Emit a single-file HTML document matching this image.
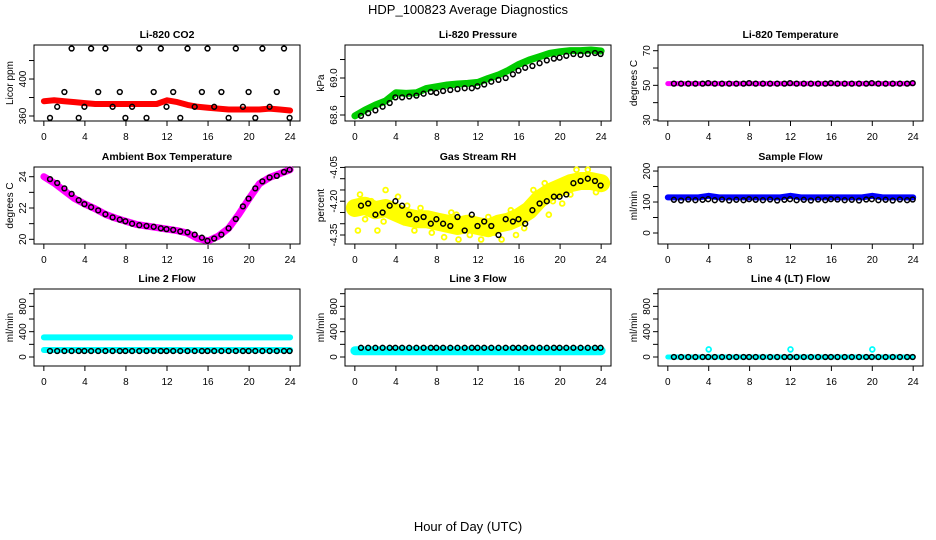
<!DOCTYPE html>
<html><head><meta charset="utf-8">
<style>
html,body{margin:0;padding:0;background:#fff;}
svg{display:block;font-family:"Liberation Sans",Arial,sans-serif;}
</style></head>
<body>
<svg id="chart" width="936" height="540" viewBox="0 0 936 540" xmlns="http://www.w3.org/2000/svg">
<text x="468" y="14" font-size="13" text-anchor="middle">HDP_100823  Average Diagnostics</text>
<text x="468" y="531" font-size="13" text-anchor="middle">Hour of Day (UTC)</text>
</svg>
<script>
// ---- data ----
const hours = [0,1,2,3,4,5,6,7,8,9,10,11,12,13,14,15,16,17,18,19,20,21,22,23,24];
const sampleTimes = [0.6,1.3,2.0,2.7,3.4,3.95, 4.6,5.3,6.0,6.7,7.4,7.95, 8.6,9.3,10,10.7,11.4,11.95,
  12.6,13.3,14,14.7,15.4,15.95, 16.6,17.3,18,18.7,19.4,19.95, 20.6,21.3,22,22.7,23.4,23.95];
const xTicks = [0,4,8,12,16,20,24];

const co2Line = [376,377,376,375,374,373,373,373,373,373,373,373,377,375,372,370,369,368,367,367,367,367,368,367,366];
const co2Points = [358,370,386,433,358,370, 433,386,433,370,386,358, 370,433,358,386,433,370,
  386,358,433,370,386,433, 370,386,358,433,370,386, 358,433,370,386,433,358];

const pressLine = [68.59,68.654,68.708,68.751,68.84,68.834,68.84,68.888,68.906,68.924,68.935,68.942,68.953,68.996,69.032,69.086,69.148,69.195,69.23,69.267,69.285,69.296,69.296,69.303,69.292];
const pressPoints = [68.59,68.62,68.65,68.69,68.73,68.79, 68.79,68.80,68.81,68.83,68.85,68.84,
  68.86,68.87,68.88,68.89,68.89,68.91, 68.93,68.96,68.98,69.00,69.04,69.08,
  69.11,69.13,69.16,69.19,69.21,69.22, 69.24,69.26,69.25,69.26,69.27,69.26];

const tempLine = [51,51,51,51,51,51,51,51,51,51,51,51,51,51,51,51,51,51,51,51,51,51,51,51,51];
const tempPoints = [51,51,51,51,51,51.3, 51,51,51,51,51,51.3, 51,51,51,51,51,51.3,
  51,51,51,51,51,51.3, 51,51,51,51,51,51.3, 51,51,51,51,51,51.3];

const ambLine = [24.0,23.6,23.1,22.6,22.25,21.95,21.6,21.35,21.15,20.95,20.85,20.75,20.65,20.55,20.4,20.05,19.9,20.2,20.7,21.6,22.6,23.55,23.95,24.2,24.45];
const ambPoints = [23.85,23.6,23.25,22.9,22.5,22.25, 22.05,21.85,21.6,21.4,21.25,21.15,
  21.0,20.9,20.85,20.8,20.7,20.65, 20.6,20.5,20.45,20.3,20.1,19.9,
  20.05,20.3,20.7,21.3,22.1,22.6, 23.25,23.7,23.95,24.05,24.3,24.45];

const rhLine = [-4.23,-4.22,-4.24,-4.23,-4.25,-4.27,-4.28,-4.28,-4.29,-4.30,-4.31,-4.30,-4.31,-4.32,-4.30,-4.29,-4.27,-4.24,-4.19,-4.16,-4.14,-4.12,-4.11,-4.11,-4.12];
const rhOutlierTimes = [0.3,0.5,1.0,2.2,3.0,4.2,5.8,7.5,8.7,9.4,10.1,11.2,12.3,13.6,14.3,15.2,17.4,18.5,19.3,20.2,21.6,22.7,23.5,6.4,16.5,1.6,2.8,5.1,9.9,13.0,15.7,18.9,21.0];
const rhOutlierVals = [-4.33,-4.17,-4.28,-4.33,-4.15,-4.18,-4.33,-4.34,-4.36,-4.25,-4.37,-4.35,-4.37,-4.34,-4.37,-4.24,-4.15,-4.12,-4.20,-4.21,-4.06,-4.06,-4.16,-4.23,-4.32,-4.20,-4.29,-4.22,-4.26,-4.27,-4.35,-4.26,-4.17];
const rhPoints = [-4.22,-4.21,-4.26,-4.25,-4.22,-4.20, -4.22,-4.26,-4.28,-4.27,-4.30,-4.28,
  -4.30,-4.31,-4.27,-4.33,-4.26,-4.31, -4.29,-4.31,-4.35,-4.28,-4.29,-4.28,
  -4.30,-4.24,-4.21,-4.20,-4.18,-4.18, -4.17,-4.12,-4.11,-4.10,-4.11,-4.13];

const flowLine = [115,115,115,115,120,115,115,115,115,115,115,115,120,115,115,115,115,115,115,115,120,115,115,115,115];
const flowPoints = [107,105,108,106,107,109, 106,108,105,107,106,109, 107,106,108,105,107,109,
  106,107,105,108,106,109, 108,106,107,105,108,109, 106,107,105,108,106,108];

const l2Upper = [310,310,310,310,310,310,310,310,310,310,310,310,310,310,310,310,310,310,310,310,310,310,310,310,310];
const l2Lower = [110,110,110,110,110,110,110,110,110,110,110,110,110,110,110,110,110,110,110,110,110,110,110,110,110];
const l2Points = [95,95,95,95,95,95, 95,95,95,95,95,95, 95,95,95,95,95,95, 95,95,95,95,95,95, 95,95,95,95,95,95, 95,95,95,95,95,95];

const l3Line = [100,100,100,100,100,100,100,100,100,100,100,100,100,100,100,100,100,100,100,100,100,100,100,100,100];
const l3Points = [145,145,145,145,145,145, 145,145,145,145,145,145, 145,145,145,145,145,145, 145,145,145,145,145,145, 145,145,145,145,145,145, 145,145,145,145,145,145];

const l4Line = [0,0,0,0,0,0,0,0,0,0,0,0,0,0,0,0,0,0,0,0,0,0,0,0,0];
const l4SpikeTimes = [4,12,20];
const l4SpikeVals = [120,120,120];
const l4Points = [0,0,0,0,0,0, 0,0,0,0,0,0, 0,0,0,0,0,0, 0,0,0,0,0,0, 0,0,0,0,0,0, 0,0,0,0,0,0];

// ---- layout ----
const svg = document.getElementById('chart');
const NS = 'http://www.w3.org/2000/svg';
const COLS = [{l:34,r:300},{l:345,r:611},{l:658,r:923}];
const ROWS = [{t:45,b:121},{t:167,b:244},{t:289,b:366}];
function mk(tag, attrs, parent){
  const e = document.createElementNS(NS, tag);
  for (const k in attrs) e.setAttribute(k, attrs[k]);
  (parent||svg).appendChild(e);
  return e;
}
function panel(ci, ri, title, ylab, ylim, yticks, ylabels, slug){
  const c = COLS[ci], r = ROWS[ri];
  const g = mk('g', {});
  
  
  const xs = h => c.l + (h + 0.96) / 25.92 * (c.r - c.l);
  const ys = v => r.b - (v - ylim[0]) / (ylim[1] - ylim[0]) * (r.b - r.t);
  const t = mk('text', {x:(c.l+c.r)/2, y:r.t-7, 'font-size':10.5, 'font-weight':'bold', 'text-anchor':'middle'}, g);
  t.textContent = title;
  
  
  const yl = mk('text', {x:0, y:0, 'font-size':10, 'text-anchor':'middle', transform:`translate(${c.l-21},${(r.t+r.b)/2}) rotate(-90)`}, g);
  yl.textContent = ylab;
  
  
  const xa = mk('g', {stroke:'#000', 'stroke-width':1}, g);
  
  
  mk('line', {x1:xs(0), x2:xs(24), y1:r.b, y2:r.b}, xa);
  xTicks.forEach(v => {
    mk('line', {x1:xs(v), x2:xs(v), y1:r.b, y2:r.b+5}, xa);
    const tl = mk('text', {x:xs(v), y:r.b+19, 'font-size':10, 'text-anchor':'middle', stroke:'none', fill:'#000'}, xa);
    tl.textContent = v;
  });
  const ya = mk('g', {stroke:'#000', 'stroke-width':1}, g);
  
  
  mk('line', {x1:c.l, x2:c.l, y1:ys(yticks[0]), y2:ys(yticks[yticks.length-1])}, ya);
  yticks.forEach(v => mk('line', {x1:c.l-5, x2:c.l, y1:ys(v), y2:ys(v)}, ya));
  ylabels.forEach(v => {
    const tl = mk('text', {x:0, y:0, 'font-size':10, 'text-anchor':'middle', stroke:'none', fill:'#000',
      transform:`translate(${c.l-8},${ys(v)}) rotate(-90)`}, ya);
    tl.textContent = v;
  });
  const box = mk('rect', {x:c.l, y:r.t, width:c.r-c.l, height:r.b-r.t, fill:'none', stroke:'#000', 'stroke-width':1}, g);
  
  
  const plot = mk('g', {}, g);
  
  
  return {xs, ys, plot};
}
function band(p, xsArr, vals, color, w, name){
  const pts = xsArr.map((h,i) => p.xs(h).toFixed(1) + ',' + p.ys(vals[i]).toFixed(1)).join(' ');
  const pl = mk('polyline', {points:pts, fill:'none', stroke:color, 'stroke-width':w, 'stroke-linejoin':'round', 'stroke-linecap':'round'}, p.plot);
  
  
}
function circles(p, xsArr, vals, color, name, sw){
  const grp = mk('g', {fill:'none', stroke:color, 'stroke-width':sw||1.5}, p.plot);
  
  
  xsArr.forEach((h,i) => {
    const c = mk('circle', {cx:p.xs(h).toFixed(1), cy:p.ys(vals[i]).toFixed(1), r:2.4}, grp);
    
    
  });
}
let p;
p = panel(0,0,'Li-820 CO2','Licor ppm',[354.6,436.8],[360,380,400,420],[360,400],'co2');
band(p, hours, co2Line, '#ff0000', 6, 'co2-red-series');
circles(p, sampleTimes, co2Points, '#000', 'co2-black-series');

p = panel(1,0,'Li-820 Pressure','kPa',[68.535,69.357],[68.6,68.8,69.0,69.2],['68.6','69.0'],'pressure');
band(p, hours, pressLine, '#00cc00', 7, 'pressure-green-series');
circles(p, sampleTimes, pressPoints, '#000', 'pressure-black-series');

p = panel(2,0,'Li-820 Temperature','degrees C',[29.4,73.3],[30,40,50,60,70],[30,50,70],'li820-temp');
band(p, hours, tempLine, '#ff00ff', 5, 'li820-temp-magenta-series');
circles(p, sampleTimes, tempPoints, '#000', 'li820-temp-black-series');

p = panel(0,1,'Ambient Box Temperature','degrees C',[19.7,24.62],[20,21,22,23,24],[20,22,24],'ambient');
band(p, hours, ambLine, '#ff00ff', 7, 'ambient-magenta-series');
circles(p, sampleTimes, ambPoints, '#000', 'ambient-black-series');

p = panel(1,1,'Gas Stream RH','percent',[-4.39,-4.048],[-4.35,-4.30,-4.25,-4.20,-4.15,-4.10,-4.05],['-4.35','-4.20','-4.05'],'rh');
band(p, hours, rhLine, '#ffff00', 18, 'rh-yellow-band');
circles(p, rhOutlierTimes, rhOutlierVals, '#ffff00', 'rh-yellow-outliers', 1.8);
circles(p, sampleTimes, rhPoints, '#000', 'rh-black-series');

p = panel(2,1,'Sample Flow','ml/min',[-35.5,213],[0,50,100,150,200],[0,100,200],'sample-flow');
band(p, hours, flowLine, '#0000ff', 6, 'sample-flow-blue-series');
circles(p, sampleTimes, flowPoints, '#000', 'sample-flow-black-series');

p = panel(0,2,'Line 2 Flow','ml/min',[-142,1074],[0,200,400,600,800,1000],[0,400,800],'line2');
band(p, hours, l2Upper, '#00ffff', 6, 'line2-cyan-upper');
band(p, hours, l2Lower, '#00ffff', 6, 'line2-cyan-lower');
circles(p, sampleTimes, l2Points, '#000', 'line2-black-series');

p = panel(1,2,'Line 3 Flow','ml/min',[-142,1074],[0,200,400,600,800,1000],[0,400,800],'line3');
band(p, hours, l3Line, '#00ffff', 9, 'line3-cyan-series');
circles(p, sampleTimes, l3Points, '#000', 'line3-black-series');

p = panel(2,2,'Line 4 (LT) Flow','ml/min',[-142,1074],[0,200,400,600,800,1000],[0,400,800],'line4');
band(p, hours, l4Line, '#00ffff', 5, 'line4-cyan-series');
circles(p, l4SpikeTimes, l4SpikeVals, '#00ffff', 'line4-cyan-spikes', 1.8);
circles(p, sampleTimes, l4Points, '#000', 'line4-black-series');
</script>
</body></html>
